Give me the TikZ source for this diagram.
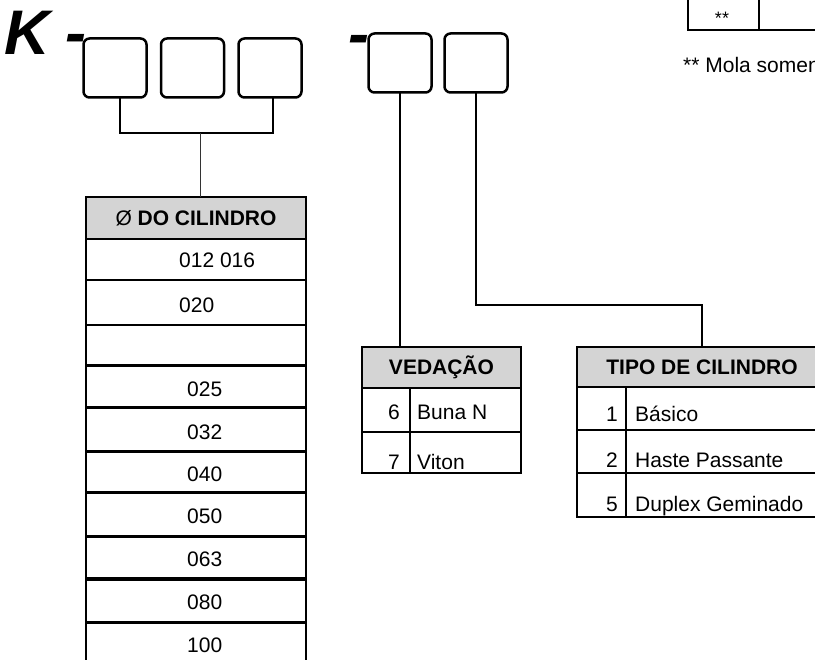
\documentclass[tikz,border=0pt]{standalone}
\usepackage{fontspec}
\setmainfont{Liberation Sans}
\usetikzlibrary{calc}
\definecolor{hdrgray}{RGB}{212,212,212}

\begin{document}
\begin{tikzpicture}[x=1pt, y=-1pt,
    digit/.style={draw, line width=2.5pt, rounded corners=6pt, minimum width=63pt, minimum height=59pt, inner sep=0pt, outer sep=0pt},
    link/.style={line width=2pt},
    thinlink/.style={line width=1pt, black!80},
    tab/.style={line width=2.5pt},
    hdr/.style={draw, line width=2pt, fill=hdrgray, font=\fontsize{21}{25}\selectfont\bfseries,
      text height=15pt, text depth=0pt, inner sep=0pt, outer sep=0pt},
    txt/.style={font=\fontsize{21}{25}\selectfont, inner sep=0pt, anchor=base west},
    num/.style={font=\fontsize{21}{25}\selectfont, inner sep=0pt, anchor=base east},
    big/.style={font=\fontsize{63}{70}\selectfont\bfseries\itshape, inner sep=0pt, anchor=base west}]
  \useasboundingbox[fill=white] (0,0) rectangle (815,660);
  \clip (0,0) rectangle (815,660);

  % --- code K-xxx-xx ---
  \node[big] (k) at (4,55) {K};
  \node[big] (dash1) at (65,55) {-};
  \node[big] (dash2) at (348,56) {-};
  \node[digit] (b1) at (115,68) {};
  \node[digit] (b2) at (192.5,68) {};
  \node[digit] (b3) at (270,68) {};
  \node[digit] (b4) at (400,63) {};
  \node[digit] (b5) at (476,63) {};

  % --- diametro ---
  \node[hdr, minimum width=220pt, minimum height=42pt] (dia) at (196,218) {{\mdseries Ø} DO CILINDRO};
  \draw[line width=2pt] (dia.south west) -- (86,670);
  \draw[line width=2pt] (dia.south east) -- (306,670);
  \draw[line width=1.5pt] (86,280) -- (306,280);
  \draw[line width=1.5pt] (86,325) -- (306,325);
  \draw[line width=3pt] (86,366) -- (306,366);
  \draw[line width=3pt] (86,408) -- (306,408);
  \draw[line width=3pt] (86,452) -- (306,452);
  \draw[line width=3pt] (86,493) -- (306,493);
  \draw[line width=3pt] (86,537) -- (306,537);
  \draw[line width=3pt] (86,579) -- (306,579);
  \draw[line width=3pt] (86,622) -- (306,622);
  \node[txt] (d1) at (179,268) {012 016};
  \node[txt] (d2) at (179,313) {020};
  \node[txt] (d3) at (187,397) {025};
  \node[txt] (d4) at (187,440) {032};
  \node[txt] (d5) at (187,482) {040};
  \node[txt] (d6) at (187,524) {050};
  \node[txt] (d7) at (187,567) {063};
  \node[txt] (d8) at (187,609) {080};
  \node[txt] (d9) at (187,652) {100};

  % --- vedacao ---
  \node[hdr, minimum width=159pt, minimum height=41pt] (ved) at (441.5,367.5) {VEDAÇÃO};
  \draw[tab] (362,388) rectangle (521,473);
  \draw[tab] (362,432) -- (521,432);
  \draw[tab] (410,388) -- (410,473);
  \node[num] (v6) at (400,420) {6};
  \node[txt] (buna) at (417,420) {Buna N};
  \node[num] (v7) at (400,470) {7};
  \node[txt] (viton) at (417,470) {Viton};

  % --- tipo de cilindro ---
  \node[hdr, minimum width=250pt, minimum height=40pt] (tipo) at (702,367) {TIPO DE CILINDRO};
  \draw[tab] (577,387) rectangle (827,517);
  \draw[tab] (577,430) -- (827,430);
  \draw[tab] (577,473) -- (827,473);
  \draw[tab] (626,387) -- (626,517);
  \node[num] (t1) at (618,422) {1};
  \node[txt] (basico) at (635,422) {Básico};
  \node[num] (t2) at (618,468) {2};
  \node[txt] (haste) at (635,468) {Haste Passante};
  \node[num] (t5) at (618,512) {5};
  \node[txt] (duplex) at (635,512) {Duplex Geminado};

  % --- nota ---
  \draw[tab] (688,-5) -- (688,30) -- (830,30);
  \draw[tab] (759,-5) -- (759,30);
  \node[font=\fontsize{18}{20}\selectfont, inner sep=0pt, anchor=base] (ast) at (722,25) {**};
  \node[txt] (nota) at (683,73) {** Mola somen};

  % --- ligacoes ---
  \coordinate (j1) at (200,133);
  \coordinate (j2) at (702,305);
  \draw[link] ([xshift=5pt]b1.south) |- ([xshift=3pt]b3.south |- j1) -- ([xshift=3pt]b3.south);
  \draw[thinlink] (j1) -- (j1 |- dia.north);
  \draw[link] (b4.south) -- (b4.south |- ved.north);
  \draw[link] (b5.south) |- (j2) -- (tipo.north);
\end{tikzpicture}
\end{document}
